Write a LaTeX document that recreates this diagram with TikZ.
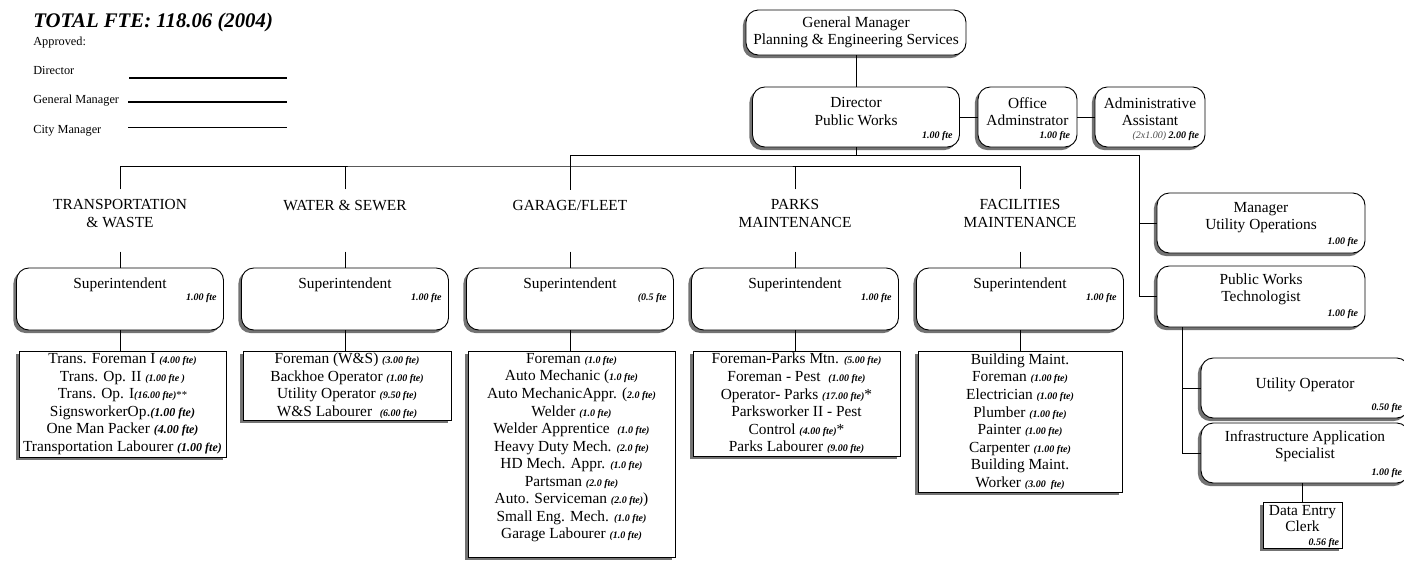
\documentclass[tikz,border=0pt]{standalone}
\usepackage{fontspec}
\setmainfont{Liberation Serif}
\usetikzlibrary{shadows,calc}

\newcommand{\ftes}[1]{{\fontsize{6.5}{7}\selectfont\bfseries\itshape #1}}
\newcommand{\fteb}[1]{{\fontsize{7.8}{9}\selectfont\bfseries\itshape #1}}
\def\pxu{0.65pt}

\begin{document}
\begin{tikzpicture}[x=0.65pt,y=-0.65pt,
	boxsize/.style 2 args={minimum width=#1*\pxu, minimum height=#2*\pxu},
	rbox/.style={draw, line width=0.6pt, fill=white, rounded corners=8pt, inner sep=0pt, align=center, font=\fontsize{10}{11.3}\selectfont, drop shadow={shadow xshift=-2pt, shadow yshift=-2pt, opacity=1, fill=black!55}},
	lbox/.style={draw, line width=0.6pt, fill=white, inner sep=0pt, drop shadow={shadow xshift=-2pt, shadow yshift=-2pt, opacity=1, fill=black!55}},
	txt/.style={align=center, inner sep=0pt, font=\fontsize{10}{11.3}\selectfont},
	lst/.style={align=center, inner sep=0pt, font=\fontsize{10}{11.4}\selectfont},
	tag/.style={anchor=base east, inner sep=0pt, font=\fontsize{6.5}{7}\selectfont\bfseries\itshape},
	dept/.style={align=center, inner xsep=0pt, inner ysep=6.5pt, font=\fontsize{10}{11.3}\selectfont},
	sign/.style={anchor=base west, inner sep=0pt, font=\fontsize{8}{9}\selectfont},
	link/.style={line width=0.6pt}]

	\useasboundingbox (0,0) rectangle (1404,560);

	% Approval block
	\node[anchor=base west, inner sep=0pt, font=\fontsize{13.5}{15}\selectfont\bfseries\itshape] (total) at (33,27) {TOTAL FTE: 118.06 (2004)};
	\node[sign] (appr) at (33,45) {Approved:};
	\node[sign] (sdir) at (33,74) {Director};
	\node[sign] (sgm) at (33,103) {General Manager};
	\node[sign] (scm) at (33,133) {City Manager};
	\draw[line width=0.8pt] (129,78) -- (287,78);
	\draw[line width=0.8pt] (128,102) -- (287,102);
	\draw[line width=0.8pt] (128,127.5) -- (287,127.5);

	% Draw top of the chart
	\node[rbox, boxsize={220}{45}] (gm) at (856,32.5) {General Manager\\Planning \& Engineering Services};
	\node[rbox, boxsize={207}{60}] (dir) at (856,117) {};
	\node[txt] (dirt) at (856,111.5) {Director\\Public Works};
	\node[tag] (dirf) at ($(dir.south east)+(-7,-9)$) {1.00 fte};
	\node[rbox, boxsize={99}{60}] (oad) at (1027.5,117) {};
	\node[txt] (oadt) at (1027.5,111.5) {Office\\Adminstrator};
	\node[tag] (oadf) at ($(oad.south east)+(-7,-9)$) {1.00 fte};
	\node[rbox, boxsize={110}{60}] (asst) at (1150,117) {};
	\node[txt] (asstt) at (1150,111.5) {Administrative\\Assistant};
	\node[tag] (asstf) at ($(asst.south east)+(-6,-9)$) {{\mdseries\color{black!70}(2x1.00)} 2.00 fte};

	% Labels
	\node[dept] (twlab) at (120,213.5) {TRANSPORTATION\\\& WASTE};
	\node[dept] (wslab) at (345,205) {WATER \& SEWER};
	\node[dept] (gflab) at (570,205) {GARAGE/FLEET};
	\node[dept] (pmlab) at (795,213.5) {PARKS\\MAINTENANCE};
	\node[dept] (fmlab) at (1020,213.5) {FACILITIES\\MAINTENANCE};

	% Draw superintendents
	\node[rbox, boxsize={207}{62}] (twsup) at (120,299) {};
	\node[txt, anchor=base] (twsupt) at (120,288) {Superintendent};
	\node[tag] (twsupf) at ($(twsup.north east)+(-7,33)$) {1.00 fte};
	\node[rbox, boxsize={207}{62}] (wssup) at (345,299) {};
	\node[txt, anchor=base] (wssupt) at (345,288) {Superintendent};
	\node[tag] (wssupf) at ($(wssup.north east)+(-7,33)$) {1.00 fte};
	\node[rbox, boxsize={207}{62}] (gfsup) at (570,299) {};
	\node[txt, anchor=base] (gfsupt) at (570,288) {Superintendent};
	\node[tag] (gfsupf) at ($(gfsup.north east)+(-7,33)$) {(0.5 fte};
	\node[rbox, boxsize={207}{62}] (pmsup) at (795,299) {};
	\node[txt, anchor=base] (pmsupt) at (795,288) {Superintendent};
	\node[tag] (pmsupf) at ($(pmsup.north east)+(-7,33)$) {1.00 fte};
	\node[rbox, boxsize={207}{62}] (fmsup) at (1020,299) {};
	\node[txt, anchor=base] (fmsupt) at (1020,288) {Superintendent};
	\node[tag] (fmsupf) at ($(fmsup.north east)+(-7,33)$) {1.00 fte};

	% Draw staff lists
	\node[lbox, boxsize={207}{106}] (twlist) at (122.5,404) {};
	\node[lst] (twlistt) at (122.5,404) {Trans. Foreman I \ftes{(4.00 fte)}\\Trans. Op. II \ftes{(1.00 fte )}\\Trans. Op. I\ftes{(16.00 fte)}{\scriptsize**}\\SignsworkerOp.\fteb{(1.00 fte)}\\One Man Packer \fteb{(4.00 fte)}\\Transportation Labourer \fteb{(1.00 fte)}};
	\node[lbox, boxsize={208}{69}] (wslist) at (347,385.5) {};
	\node[lst] (wslistt) at (347,385.5) {Foreman (W\&S) \ftes{(3.00 fte)}\\Backhoe Operator \ftes{(1.00 fte)}\\Utility Operator \ftes{(9.50 fte)}\\W\&S Labourer \ \ftes{(6.00 fte)}};
	\node[lbox, boxsize={207}{206}] (gflist) at (571.5,454) {};
	\node[lst, anchor=north] (gflistt) at (571.5,353) {Foreman \ftes{(1.0 fte)}\\Auto Mechanic (\ftes{1.0 fte)}\\Auto MechanicAppr. (\ftes{2.0 fte)}\\Welder \ftes{(1.0 fte)}\\Welder Apprentice \ \ftes{(1.0 fte)}\\Heavy Duty Mech. \ftes{(2.0 fte)}\\HD Mech. Appr. \ftes{(1.0 fte)}\\Partsman \ftes{(2.0 fte)}\\Auto. Serviceman \ftes{(2.0 fte)})\\Small Eng. Mech. \ftes{(1.0 fte)}\\Garage Labourer \ftes{(1.0 fte)}};
	\node[lbox, boxsize={207}{105}] (pmlist) at (796.5,403.5) {};
	\node[lst] (pmlistt) at (796.5,403.5) {Foreman-Parks Mtn. \ftes{(5.00 fte)}\\Foreman - Pest \ \ftes{(1.00 fte)}\\Operator- Parks \ftes{(17.00 fte)}*\\Parksworker II - Pest\\Control \ftes{(4.00 fte)}*\\Parks Labourer \ftes{(9.00 fte)}};
	\node[lbox, boxsize={204}{141}] (fmlist) at (1020,421.5) {};
	\node[lst] (fmlistt) at (1020,421.5) {Building Maint.\\Foreman \ftes{(1.00 fte)}\\Electrician \ftes{(1.00 fte)}\\Plumber \ftes{(1.00 fte)}\\Painter \ftes{(1.00 fte)}\\Carpenter \ftes{(1.00 fte)}\\Building Maint.\\Worker \ftes{(3.00 \ fte)}};

	% Draw right column
	\node[rbox, boxsize={208}{60}] (muo) at (1261,223) {};
	\node[txt] (muot) at (1261,217.5) {Manager\\Utility Operations};
	\node[tag] (muof) at ($(muo.south east)+(-7,-9)$) {1.00 fte};
	\node[rbox, boxsize={208}{61}] (pwt) at (1261,296.5) {};
	\node[txt] (pwtt) at (1261,289.5) {Public Works\\Technologist};
	\node[tag] (pwtf) at ($(pwt.south east)+(-7,-11)$) {1.00 fte};
	\node[rbox, boxsize={208}{60}] (uop) at (1305,388) {};
	\node[txt, anchor=base] (uopt) at (1305,388) {Utility Operator};
	\node[tag] (uopf) at ($(uop.south east)+(-7,-8)$) {0.50 fte};
	\node[rbox, boxsize={208}{60}] (ias) at (1305,453) {};
	\node[txt] (iast) at (1305,446) {Infrastructure Application\\Specialist};
	\node[tag] (iasf) at ($(ias.south east)+(-7,-8)$) {1.00 fte};
	\node[lbox, boxsize={79}{46}] (dec) at (1302.5,525) {};
	\node[txt, font=\fontsize{10}{10.4}\selectfont] (dect) at (1302.5,519) {Data Entry\\Clerk};
	\node[tag] (decf) at ($(dec.south east)+(-3,-3)$) {0.56 fte};

	% Draw connectors
	\coordinate (trunk) at (1139,155);
	\coordinate (busL) at (570,166);
	\coordinate (techleg) at ($(pwt.south west)+(26,0)$);
	\coordinate (twstub) at ($(twsup.north)+(0,-16)$);
	\coordinate (wsstub) at ($(wssup.north)+(0,-16)$);
	\coordinate (gfstub) at ($(gfsup.north)+(0,-16)$);
	\coordinate (pmstub) at ($(pmsup.north)+(0,-16)$);
	\coordinate (fmstub) at ($(fmsup.north)+(0,-16)$);

	\draw[link] (gm.south) -- (dir.north);
	\draw[link] (dir.east) -- (oad.west);
	\draw[link] (oad.east) -- (asst.west);
	\draw[link] (dir.south) -- (dir.south |- trunk);
	\draw[link] (gflab.north) |- (trunk) |- (pwt.west);
	\draw[link] (trunk) |- (muo.west);
	\draw[link] (twlab.north) |- (busL) -| (fmlab.north);
	\draw[link] (wslab.north) -- (wslab.north |- busL);
	\draw[link] (pmlab.north) -- (pmlab.north |- busL);

	\draw[link] (twstub) -- (twsup.north);
	\draw[link] (wsstub) -- (wssup.north);
	\draw[link] (gfstub) -- (gfsup.north);
	\draw[link] (pmstub) -- (pmsup.north);
	\draw[link] (fmstub) -- (fmsup.north);

	\draw[link] (twsup.south) -- (twsup.south |- twlist.north);
	\draw[link] (wssup.south) -- (wssup.south |- wslist.north);
	\draw[link] (gfsup.south) -- (gfsup.south |- gflist.north);
	\draw[link] (pmsup.south) -- (pmsup.south |- pmlist.north);
	\draw[link] (fmsup.south) -- (fmsup.south |- fmlist.north);

	\draw[link] (techleg) |- (uop.west);
	\draw[link] (techleg) |- (ias.west);
	\draw[link] (dec.north) -- (dec.north |- ias.south);

\end{tikzpicture}
\end{document}
